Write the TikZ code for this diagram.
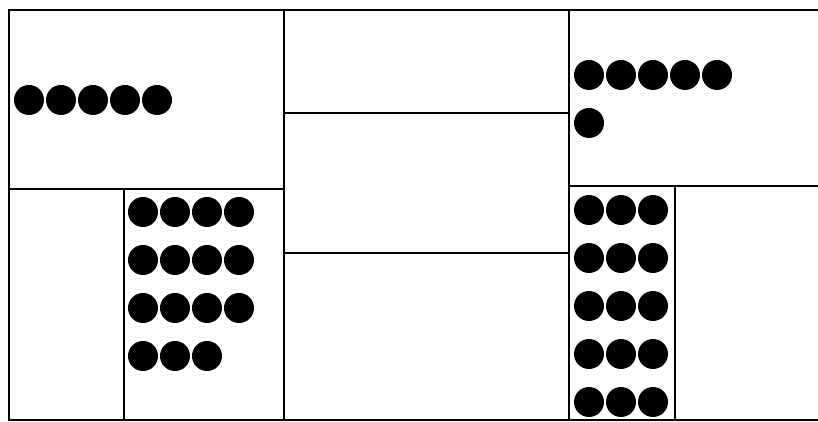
\documentclass[tikz,border=0pt]{standalone}
\begin{document}
\begin{tikzpicture}[counter/.style={fill=black}, frame/.style={line width=1.5pt}, wall/.style={line width=0.8pt}]
	\useasboundingbox (0,0) rectangle (16.36,8.44);
	% outer frame, open on the right
	\draw[frame] (16.36,8.24) -- (0.18,8.24) -- (0.18,0.04) -- (16.36,0.04);
	% columns
	\draw[wall] (5.68,8.24) -- (5.68,0.04);
	\draw[wall] (11.38,8.24) -- (11.38,0.04);
	\draw[wall] (0.18,4.66) -- (5.68,4.66);
	\draw[wall] (2.48,4.66) -- (2.48,0.04);
	\draw[wall] (5.68,6.18) -- (11.38,6.18);
	\draw[wall] (5.68,3.38) -- (11.38,3.38);
	\draw[wall] (11.38,4.72) -- (16.36,4.72);
	\draw[wall] (13.5,4.72) -- (13.5,0.04);
	% left counters
	\foreach \i in {0,...,4}
		\fill[counter] (0.58+0.64*\i,6.44) circle (0.3);
	\foreach \r in {0,1,2}
		\foreach \i in {0,...,3}
			\fill[counter] (2.86+0.64*\i,4.2-0.96*\r) circle (0.3);
	\foreach \i in {0,1,2}
		\fill[counter] (2.86+0.64*\i,1.32) circle (0.3);
	% right counters
	\foreach \i in {0,...,4}
		\fill[counter] (11.78+0.64*\i,6.94) circle (0.3);
	\fill[counter] (11.78,5.98) circle (0.3);
	\foreach \r in {0,...,4}
		\foreach \i in {0,1,2}
			\fill[counter] (11.78+0.64*\i,4.24-0.96*\r) circle (0.3);
\end{tikzpicture}
\end{document}
